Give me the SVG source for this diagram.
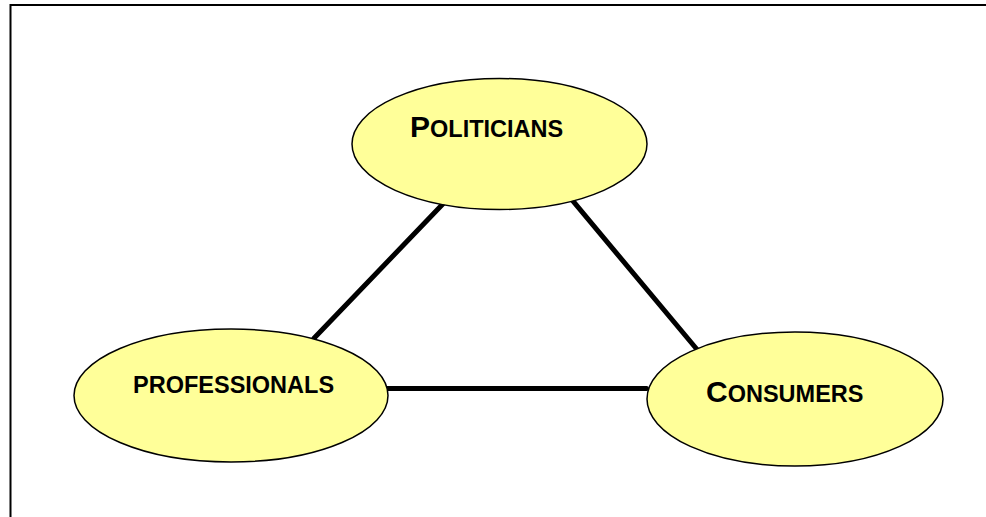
<svg xmlns="http://www.w3.org/2000/svg" width="986" height="517" viewBox="0 0 986 517">
<style>
.node ellipse{fill:#FFFF99;stroke:#000;stroke-width:1.5}
.lbl{font-family:"Liberation Sans",Arial,sans-serif;font-weight:bold;fill:#000}
.big{font-size:30px}
.sm{font-size:23.5px}
.conn line{stroke:#000;stroke-width:5;stroke-linecap:round}
</style>
<rect x="10.5" y="5" width="990" height="530" fill="#fff" stroke="#000" stroke-width="2"/>
<g id="connectors" class="conn">
<line x1="443.3" y1="203.5" x2="314" y2="338.3"/>
<line x1="569.3" y1="196.7" x2="698.3" y2="351"/>
<line x1="387" y1="388.5" x2="646.5" y2="388.5"/>
</g>
<g id="politicians" class="node">
<ellipse cx="499.5" cy="144" rx="147.5" ry="65.5"/>
<text class="lbl" x="410" y="137"><tspan class="big">P</tspan><tspan class="sm">OLITICIANS</tspan></text>
</g>
<g id="professionals" class="node">
<ellipse cx="231" cy="395.5" rx="157" ry="66.5"/>
<text class="lbl sm" x="133" y="392.7">PROFESSIONALS</text>
</g>
<g id="consumers" class="node">
<ellipse cx="795" cy="399" rx="148" ry="67"/>
<text class="lbl" x="706" y="401.7"><tspan class="big">C</tspan><tspan class="sm">ONSUMERS</tspan></text>
</g>
</svg>
